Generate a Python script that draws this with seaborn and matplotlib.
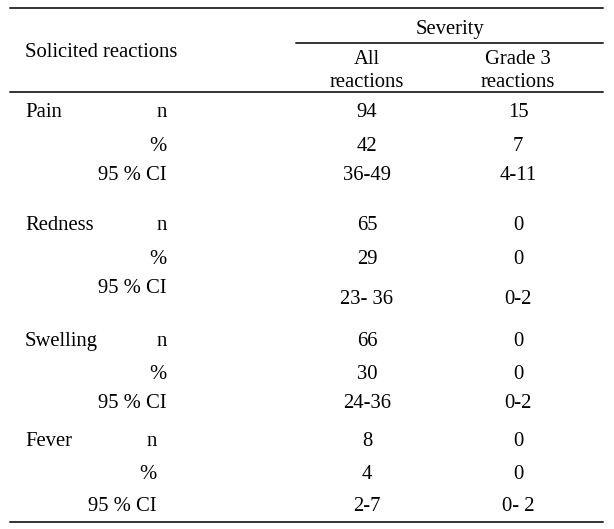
import matplotlib
matplotlib.use("Agg")
import matplotlib.pyplot as plt
import seaborn as sns

# table content
reactions = ["Pain", "Redness", "Swelling", "Fever"]
stat_labels = ["n", "%", "95 % CI"]
all_reactions = [["94", "42", "36-49"],
                 ["65", "29", "23- 36"],
                 ["66", "30", "24-36"],
                 ["8", "4", "2-7"]]
grade3_reactions = [["15", "7", "4-11"],
                    ["0", "0", "0-2"],
                    ["0", "0", "0-2"],
                    ["0", "0", "0- 2"]]
header_left = "Solicited reactions"
header_top = "Severity"
col_headers = ["All\nreactions", "Grade 3\nreactions"]

# layout (pixel coordinates of the 614x529 picture)
group_y = [110, 223, 339, 439]
row_dy = [[0, 34, 63], [0, 34, 63], [0, 33, 62], [0, 33, 65]]
value_dy = [[0, 34, 63], [0, 34, 74], [0, 33, 62], [0, 33, 65]]
label_right = [167, 167, 167, 157]
col_x = [367, 518]

sns.set_theme(style="white")
plt.rcParams['font.family'] = ['Liberation Serif', 'DejaVu Serif']

fig = plt.figure(figsize=(6.14, 5.29), dpi=100)
ax = fig.add_axes([0, 0, 1, 1])
ax.set_xlim(0, 614)
ax.set_ylim(529, 0)
ax.axis("off")

fs = 14.9
base = 6.7  # centre of digits -> baseline


def put(x, y, s, ha="center"):
    ax.text(x, y + base, s, ha=ha, va="baseline", fontsize=fs, color="black")


line_kw = dict(color="#333333", linewidth=1.4)
ax.plot([10, 603], [8, 8], **line_kw)
ax.plot([296, 603], [43, 43], **line_kw)
ax.plot([10, 603], [92, 92], **line_kw)
ax.plot([10, 603], [522, 522], **line_kw)

put(450, 27, header_top)
put(25, 50, header_left, ha="left")
for x, h in zip(col_x, col_headers):
    top, bottom = h.split("\n")
    put(x, 57, top)
    put(x, 80, bottom)

for i, name in enumerate(reactions):
    y0 = group_y[i]
    put(25, y0, name, ha="left")
    for j, lab in enumerate(stat_labels):
        put(label_right[i], y0 + row_dy[i][j], lab, ha="right")
        put(col_x[0], y0 + value_dy[i][j], all_reactions[i][j])
        put(col_x[1], y0 + value_dy[i][j], grade3_reactions[i][j])

fig.savefig("out.png", dpi=100)
